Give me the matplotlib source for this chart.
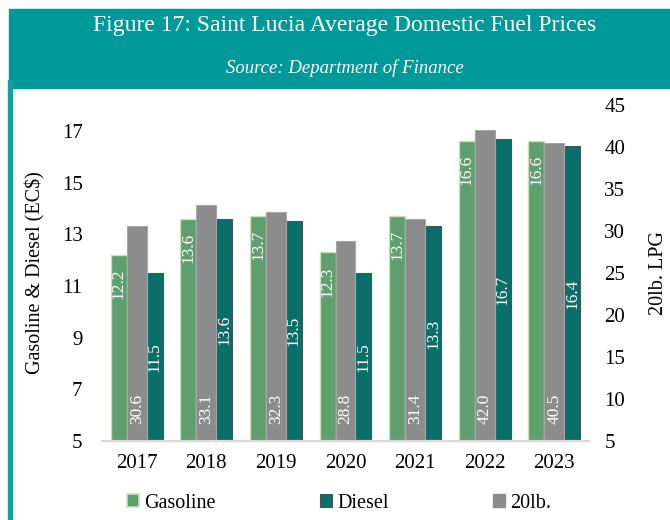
import matplotlib
matplotlib.use("Agg")
import matplotlib.pyplot as plt
from matplotlib.patches import Rectangle, Patch
import numpy as np

years = ["2017", "2018", "2019", "2020", "2021", "2022", "2023"]
gasoline = [12.2, 13.6, 13.7, 12.3, 13.7, 16.6, 16.6]
diesel = [11.5, 13.6, 13.5, 11.5, 13.3, 16.7, 16.4]
lpg20 = [30.6, 33.1, 32.3, 28.8, 31.4, 42.0, 40.5]

left_ticks = [5, 7, 9, 11, 13, 15, 17]
right_ticks = [5, 10, 15, 20, 25, 30, 35, 40, 45]

title = "Figure 17: Saint Lucia Average Domestic Fuel Prices"
subtitle = "Source: Department of Finance"

GREEN = "#5f9e6f"
GREEN_EDGE = "#c9e3b8"
TEAL = "#0a6e69"
GRAY = "#8c8c8c"
BAND = "#009999"

plt.rcParams["font.family"] = ["Liberation Serif", "DejaVu Serif"]

W, H = 670, 520
fig = plt.figure(figsize=(W / 100, H / 100), dpi=100)

# header band
fig.patches.append(Rectangle((9 / W, 1 - 88 / H), 1 - 9 / W, 79 / H,
                             transform=fig.transFigure, color=BAND, zorder=0))
fig.patches.append(Rectangle((8 / W, 0), 4 / W, 1 - 80 / H,
                             transform=fig.transFigure, color="#17a09b", zorder=0))
fig.text(345 / W, 1 - 25 / H, title, color="white", fontsize=17,
         ha="center", va="center")
fig.text(345 / W, 1 - 68 / H, subtitle, color="white", fontsize=13.5,
         style="italic", ha="center", va="center")

x0, x1 = 102, 589
ytop, ybot = 105, 441
ax = fig.add_axes([x0 / W, 1 - ybot / H, (x1 - x0) / W, (ybot - ytop) / H])
ax2 = ax.twinx()

x = np.arange(len(years))
off = 0.258
wg = 0.23
wl = 0.287

ax.bar(x - off, gasoline, width=wg, color=GREEN, edgecolor=GREEN_EDGE,
       linewidth=1.0, zorder=2)
ax.bar(x + off, diesel, width=wg, color=TEAL, edgecolor="#3f5757",
       linewidth=0.8, zorder=2)
ax2.bar(x, lpg20, width=wl, color=GRAY, edgecolor="#a6a6a6",
        linewidth=0.8, zorder=2)

ax.set_xlim(-0.5, len(years) - 0.5)
ax.set_ylim(5, 18)
ax2.set_ylim(5, 45)
ax.set_yticks(left_ticks)
ax2.set_yticks(right_ticks)
ax.set_xticks(x)
ax.set_xticklabels(years, fontsize=15)
ax.tick_params(axis="both", length=0, labelsize=15)
ax.tick_params(axis="x", pad=9)
ax.tick_params(axis="y", pad=14)
ax2.tick_params(axis="y", length=0, labelsize=15, pad=11)

for a in (ax, ax2):
    for s in ("top", "left", "right"):
        a.spines[s].set_visible(False)
    a.spines["bottom"].set_color("#d9d9d9")
    a.spines["bottom"].set_linewidth(1.5)

ax.set_ylabel("Gasoline & Diesel (EC$)", fontsize=14.5, labelpad=12)
ax2.set_ylabel("20lb. LPG", fontsize=14.5, labelpad=17)

# data labels
for i in range(len(years)):
    ax.annotate(f"{gasoline[i]:.1f}", (x[i] - off, gasoline[i]),
                xytext=(0, -10), textcoords="offset points",
                rotation=90, ha="center", va="top", color="white",
                fontsize=12.5, zorder=5)
    ax.text(x[i] + off, (5 + diesel[i]) / 2, f"{diesel[i]:.1f}",
            rotation=90, ha="center", va="center", color="white",
            fontsize=12.5, zorder=5)
    ax2.annotate(f"{lpg20[i]:.1f}", (x[i], 5),
                 xytext=(0, 12), textcoords="offset points",
                 rotation=90, ha="center", va="bottom", color="white",
                 fontsize=12.5, zorder=5)

handles = [Patch(facecolor=GREEN, edgecolor=GREEN_EDGE, linewidth=1.2),
           Patch(facecolor=TEAL, edgecolor="#3f5757", linewidth=0.8),
           Patch(facecolor=GRAY, edgecolor=GRAY)]
leg = fig.legend(handles, ["Gasoline", "Diesel", "20lb."], ncol=3,
                 loc="center", bbox_to_anchor=(339 / W, 1 - 503 / H),
                 frameon=False, fontsize=14.5, handlelength=0.6,
                 handleheight=0.6, handletextpad=0.25, columnspacing=5.2,
                 borderaxespad=0)

fig.savefig("out.png", dpi=100)
